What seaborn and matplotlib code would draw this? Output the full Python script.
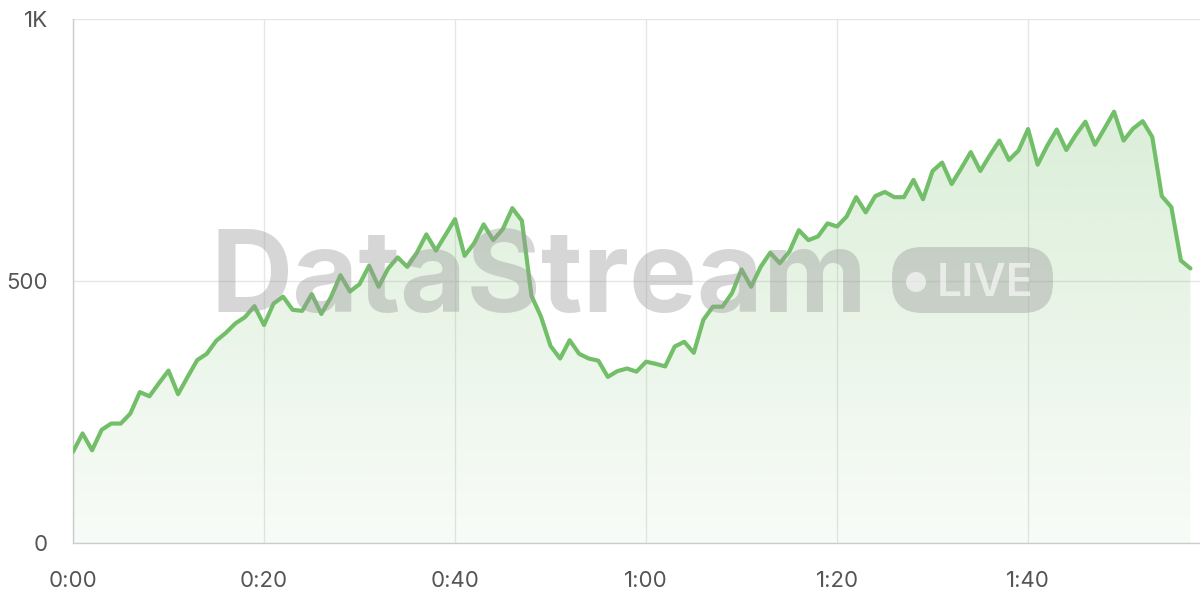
import numpy as np
import pandas as pd
import matplotlib
matplotlib.use("Agg")
import matplotlib.pyplot as plt
import seaborn as sns
from matplotlib.patches import FancyBboxPatch, Ellipse

# values, one point per minute (0 .. 117)
values = [174, 209, 177, 216, 228, 228, 247, 288, 280, 305,
          329, 284, 317, 349, 361, 386, 401, 419, 431, 452,
          416, 457, 470, 445, 443, 475, 437, 469, 511, 480,
          494, 529, 489, 524, 545, 527, 554, 589, 558, 588,
          618, 548, 572, 608, 578, 599, 639, 615, 472, 432,
          376, 352, 387, 361, 352, 348, 317, 328, 333, 327,
          346, 342, 337, 375, 384, 363, 426, 451, 451, 477,
          522, 489, 527, 554, 534, 556, 597, 578, 585, 610,
          604, 623, 660, 631, 662, 670, 660, 660, 693, 656,
          710, 726, 685, 715, 746, 710, 740, 768, 731, 749,
          790, 722, 758, 789, 750, 779, 804, 760, 791, 823,
          768, 791, 805, 775, 662, 641, 539, 524]
minutes = list(range(len(values)))
x_ticks = [0, 20, 40, 60, 80, 100]
x_labels = ["0:00", "0:20", "0:40", "1:00", "1:20", "1:40"]
y_ticks = [0, 500, 1000]
y_labels = ["0", "500", "1K"]

df = pd.DataFrame({"minute": minutes, "value": values})

sns.set_theme(style="white")
plt.rcParams["font.family"] = ["Inter", "DejaVu Sans"]

green = "#73BF69"
grid_c = "#e6e6e6"

fig = plt.figure(figsize=(12, 6), dpi=100)
ax = fig.add_axes([73 / 1200, 57 / 600, 1127 / 1200, 524 / 600])

# watermark behind the data
fig.text(210 / 1200, 1 - 312 / 600, "DataStream", fontsize=82,
         fontweight="bold", color="#999999", alpha=0.4, ha="left", va="baseline",
         zorder=0)
badge = FancyBboxPatch((892 / 1200, 1 - 313 / 600), 161 / 1200, 66 / 600,
                       boxstyle="round,pad=0,rounding_size=0.025",
                       transform=fig.transFigure, facecolor="#999999",
                       alpha=0.4, edgecolor="none", zorder=0,
                       mutation_aspect=2)
fig.patches.append(badge)
fig.text(937 / 1200, 1 - 296 / 600, "LIVE", fontsize=32, fontweight="semibold",
         color="white", alpha=0.6, ha="left", va="baseline", zorder=0)
dot = Ellipse((916 / 1200, 1 - 282 / 600), 20 / 1200, 20 / 600,
              transform=fig.transFigure, facecolor="white", alpha=0.6,
              edgecolor="none", zorder=0)
fig.patches.append(dot)

ax.patch.set_alpha(0)

# gradient fill under the line
poly = ax.fill_between(df["minute"], df["value"], color="none")
rgba = np.zeros((256, 1, 4))
rgba[..., :3] = matplotlib.colors.to_rgb(green)
rgba[:, 0, 3] = np.linspace(0.05, 0.30, 256)
im = ax.imshow(rgba, extent=[0, minutes[-1], 0, 1000], origin="lower",
               aspect="auto", zorder=1)
im.set_clip_path(poly.get_paths()[0], transform=ax.transData)
poly.remove()

sns.lineplot(data=df, x="minute", y="value", color=green, linewidth=3,
             ax=ax, zorder=3)

ax.set_xlim(0, 118)
ax.set_ylim(0, 1000)
ax.set_xticks(x_ticks)
ax.set_xticklabels(x_labels)
ax.set_yticks(y_ticks)
ax.set_yticklabels(y_labels)
ax.set_xlabel("")
ax.set_ylabel("")
ax.grid(True, color=grid_c, linewidth=1)
ax.set_axisbelow(True)
ax.tick_params(axis="both", length=11, width=1, color=grid_c,
               labelsize=16, labelcolor="#555555")
ax.tick_params(axis="x", pad=9)
ax.tick_params(axis="y", pad=7)
for s in ["top", "right"]:
    ax.spines[s].set_visible(False)
for s in ["left", "bottom"]:
    ax.spines[s].set_color("#cccccc")
    ax.spines[s].set_linewidth(1)

fig.savefig("out.png", dpi=100)
